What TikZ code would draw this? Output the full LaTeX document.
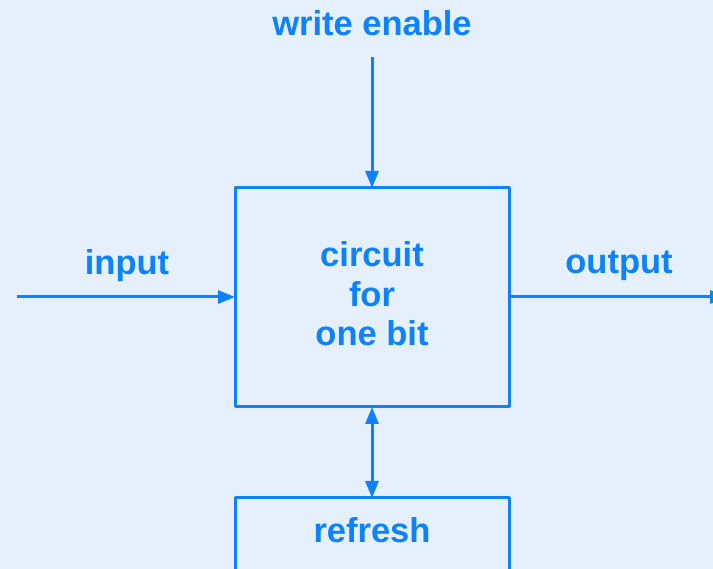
\documentclass[tikz,border=0pt]{standalone}
\usepackage{fontspec}
\setmainfont{Liberation Sans}
\usetikzlibrary{arrows.meta}
\definecolor{bgc}{HTML}{E6F0FC}
\definecolor{blu}{HTML}{0D82FF}
\begin{document}
\begin{tikzpicture}[x=1pt,y=-1pt,
  line width=3pt,
  box/.style={draw=blu,line width=3pt,line join=round},
  lbl/.style={text=blu,font=\fontsize{34.5}{39.5}\selectfont\bfseries,align=center,inner sep=0pt},
  arr/.style={draw=blu,-{Triangle[length=17pt,width=13pt]}},
  darr/.style={draw=blu,{Triangle[length=17pt,width=13pt]}-{Triangle[length=17pt,width=13pt]}}]
\fill[bgc] (0,0) rectangle (713,569);
\useasboundingbox (0,0) rectangle (713,569);
\draw[box] (235,188) rectangle (509,407);
\node[lbl] (circ) at (372,294) {circuit\\for\\one bit};
\draw[box] (235,498) rectangle (509,600);
\node[lbl] (refr) at (372,530) {refresh};
\node[lbl] (we) at (372,23) {write enable};
\node[lbl] (inp) at (127,266) {input};
\node[lbl] (outp) at (619,266) {output};
\coordinate (boxtop) at (372,188);
\coordinate (boxbot) at (372,407);
\coordinate (boxleft) at (235,297);
\coordinate (boxright) at (509,297);
\coordinate (reftop) at (372,498);
\coordinate (westart) at (372,57);
\coordinate (instart) at (17,297);
\coordinate (outend) at (727,297);
\draw[arr] (westart) -- (boxtop);
\draw[arr] (instart) -- (boxleft);
\draw[arr] (boxright) -- (outend);
\draw[darr] (boxbot) -- (reftop);
\end{tikzpicture}
\end{document}
